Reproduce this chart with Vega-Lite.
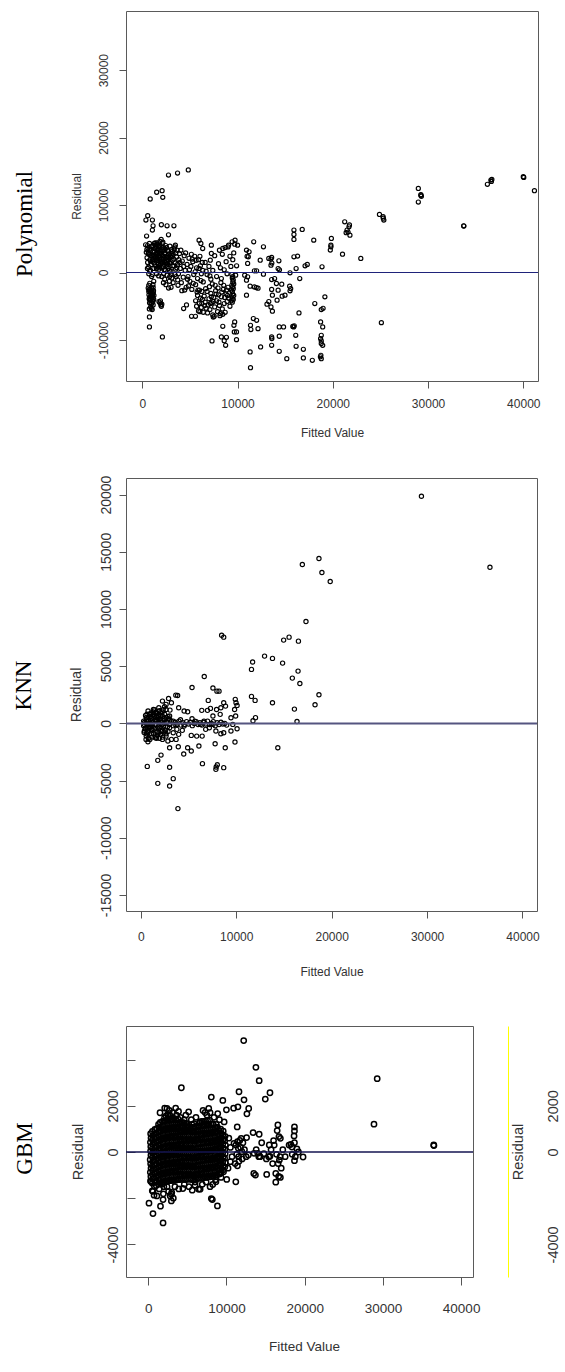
{
"$schema":"https://vega.github.io/schema/vega-lite/v6.json",
"autosize":"none",
"padding":{"left":126,"top":11,"right":439,"bottom":1361},
"background":"white",
"config":{
"view":{"stroke":"#5a5a5a","strokeWidth":1},
"axis":{"domain":false,"grid":false,"tickColor":"#555555","tickWidth":1,"labelColor":"#333333","titleColor":"#333333","labelFont":"Liberation Sans","titleFont":"Liberation Sans","titleFontWeight":"normal","labelFlush":false,"labelOverlap":false},
"title":{"font":"Liberation Serif","fontWeight":"normal","color":"#000000","fontSize":23,"orient":"left"}
},
"datasets":{
"poly":[
{"fit":2750,"res":14450},{"fit":3700,"res":14750},{"fit":4830,"res":15200},{"fit":1510,"res":11900},{"fit":2080,"res":12130},{"fit":2150,"res":11140},{"fit":830,"res":10900},{"fit":28980,"res":12470},{"fit":28980,"res":10450},{"fit":29250,"res":11530},{"fit":29300,"res":11300},{"fit":29250,"res":11450},{"fit":24900,"res":8610},{"fit":25280,"res":8270},{"fit":25360,"res":7770},{"fit":25300,"res":8050},{"fit":25100,"res":-7430},{"fit":33740,"res":6930},{"fit":33760,"res":6880},{"fit":36230,"res":13070},{"fit":36600,"res":13710},{"fit":36650,"res":13500},{"fit":36700,"res":13800},{"fit":40000,"res":14200},{"fit":40050,"res":14100},{"fit":41170,"res":12130},{"fit":22940,"res":2080},{"fit":21020,"res":2720},{"fit":21250,"res":7520},{"fit":21500,"res":6290},{"fit":21700,"res":6780},{"fit":21600,"res":6000},{"fit":21800,"res":5540},{"fit":21750,"res":7050},{"fit":21400,"res":5900},{"fit":19850,"res":5050},{"fit":19800,"res":4060},{"fit":19800,"res":3810},{"fit":19740,"res":3320},{"fit":18000,"res":4800},{"fit":18870,"res":840},{"fit":19170,"res":-3610},{"fit":18980,"res":-5300},{"fit":18790,"res":-5500},{"fit":18110,"res":-4600},{"fit":18720,"res":-7330},{"fit":18940,"res":-8070},{"fit":18790,"res":-9310},{"fit":18720,"res":-9800},{"fit":18790,"res":-10150},{"fit":18790,"res":-10540},{"fit":18940,"res":-10790},{"fit":18750,"res":-12280},{"fit":18790,"res":-12770},{"fit":18700,"res":-12500},{"fit":17850,"res":-13020},{"fit":16910,"res":-12670},{"fit":16910,"res":-11390},{"fit":16150,"res":-10940},{"fit":16110,"res":-9310},{"fit":15890,"res":-8070},{"fit":15800,"res":-8000},{"fit":15950,"res":-7900},{"fit":15170,"res":-12770},{"fit":14380,"res":-11680},{"fit":14380,"res":-9450},{"fit":14380,"res":-8070},{"fit":14830,"res":-8070},{"fit":13580,"res":-10790},{"fit":13580,"res":-9550},{"fit":13600,"res":-9800},{"fit":12420,"res":-11040},{"fit":12150,"res":-8320},{"fit":12000,"res":-7080},{"fit":11660,"res":-6830},{"fit":11360,"res":-7820},{"fit":11400,"res":-8460},{"fit":11320,"res":-11780},{"fit":11360,"res":-14110},{"fit":9890,"res":-9950},{"fit":9890,"res":-8810},{"fit":9660,"res":-8810},{"fit":9700,"res":-7330},{"fit":9620,"res":-7820},{"fit":8830,"res":-9600},{"fit":8750,"res":-10790},{"fit":8300,"res":-9550},{"fit":8600,"res":-10100},{"fit":8450,"res":-7970},{"fit":7320,"res":-10150},{"fit":5170,"res":-6490},{"fit":5580,"res":-6490},{"fit":4640,"res":-4800},{"fit":4340,"res":-5350},{"fit":2110,"res":-9550},{"fit":750,"res":-8070},{"fit":750,"res":-6580},
{"fit":570,"res":8420},{"fit":380,"res":7770},{"fit":1060,"res":7770},{"fit":1130,"res":6930},{"fit":1060,"res":6290},{"fit":450,"res":5400},{"fit":2000,"res":7080},{"fit":2600,"res":6930},{"fit":3320,"res":6930},{"fit":2750,"res":5590},{"fit":3470,"res":4060},{"fit":5960,"res":4800},{"fit":6150,"res":4310},{"fit":6340,"res":3560},{"fit":7250,"res":4060},{"fit":7250,"res":2820},{"fit":7140,"res":1830},{"fit":8450,"res":3560},{"fit":9060,"res":4060},{"fit":9430,"res":4550},{"fit":9740,"res":4800},{"fit":10000,"res":4060},{"fit":11700,"res":4550},{"fit":12720,"res":3810},{"fit":10940,"res":3320},{"fit":11130,"res":2330},{"fit":11210,"res":3070},{"fit":12380,"res":1830},{"fit":13280,"res":2080},{"fit":13580,"res":2230},{"fit":13510,"res":1090},{"fit":14340,"res":1730},{"fit":14260,"res":590},{"fit":15920,"res":6290},{"fit":15920,"res":5640},{"fit":15920,"res":4900},{"fit":15920,"res":2330},{"fit":16300,"res":2430},{"fit":16790,"res":6390},{"fit":16150,"res":590},{"fit":16530,"res":-890},{"fit":17320,"res":1190},{"fit":17090,"res":990},{"fit":15510,"res":-50},{"fit":15470,"res":-2030},{"fit":15580,"res":-2380},{"fit":15510,"res":-2720},{"fit":14680,"res":-3510},{"fit":14980,"res":-3360},{"fit":14260,"res":-2620},{"fit":14640,"res":-1730},{"fit":14080,"res":-1630},{"fit":13890,"res":-890},{"fit":13580,"res":-1040},{"fit":13580,"res":-2520},{"fit":13660,"res":-3360},{"fit":13280,"res":-4310},{"fit":13090,"res":-4700},{"fit":13510,"res":-5100},{"fit":14150,"res":-4110},{"fit":13660,"res":-5740},{"fit":12720,"res":-250},{"fit":12000,"res":250},{"fit":12150,"res":-2330},{"fit":11770,"res":-2130},{"fit":11320,"res":-2030},{"fit":10940,"res":-1140},{"fit":11060,"res":-640},{"fit":10750,"res":-400},{"fit":10940,"res":-3360},{"fit":13500,"res":2000},{"fit":13600,"res":1400},{"fit":14400,"res":400},{"fit":16450,"res":-5990},{"fit":11060,"res":1340},{"fit":11000,"res":2400},{"fit":11960,"res":-2230},{"fit":11770,"res":250},
{"fit":350,"res":4100},{"fit":420,"res":3000},{"fit":500,"res":2200},{"fit":560,"res":1500},{"fit":600,"res":3600},{"fit":650,"res":800},{"fit":700,"res":2700},{"fit":750,"res":4300},{"fit":800,"res":1900},{"fit":850,"res":300},{"fit":900,"res":3300},{"fit":950,"res":1200},{"fit":1000,"res":2500},{"fit":1050,"res":-300},{"fit":1100,"res":4000},{"fit":1150,"res":1700},{"fit":1200,"res":600},{"fit":1250,"res":3000},{"fit":1300,"res":2200},{"fit":1350,"res":4400},{"fit":1400,"res":1000},{"fit":1450,"res":3500},{"fit":1500,"res":-200},{"fit":1550,"res":2600},{"fit":1600,"res":4200},{"fit":1650,"res":1500},{"fit":1700,"res":3800},{"fit":1750,"res":500},{"fit":1800,"res":2900},{"fit":1850,"res":4600},{"fit":1900,"res":1200},{"fit":1950,"res":3200},{"fit":2000,"res":2000},{"fit":2050,"res":-600},{"fit":2100,"res":4300},{"fit":2150,"res":2500},{"fit":2200,"res":900},{"fit":2250,"res":3700},{"fit":2300,"res":1600},{"fit":2350,"res":-1000},{"fit":2400,"res":2800},{"fit":2450,"res":4000},{"fit":2500,"res":1100},{"fit":2550,"res":2200},{"fit":2600,"res":-400},{"fit":2650,"res":3300},{"fit":2700,"res":1800},{"fit":2750,"res":600},{"fit":2800,"res":2700},{"fit":2850,"res":-1300},{"fit":2900,"res":3900},{"fit":2950,"res":1400},{"fit":3000,"res":200},{"fit":3050,"res":2300},{"fit":3100,"res":-800},{"fit":3150,"res":3100},{"fit":3200,"res":1000},{"fit":3300,"res":2000},{"fit":3400,"res":3800},{"fit":3500,"res":500},{"fit":1320,"res":3600},{"fit":1620,"res":2900},{"fit":1880,"res":2300},{"fit":2120,"res":1400},{"fit":2380,"res":3300},{"fit":2620,"res":900},{"fit":1480,"res":600},{"fit":1720,"res":-500},{"fit":1980,"res":4900},{"fit":2220,"res":-1500},{"fit":1200,"res":-1300},{"fit":980,"res":-600},{"fit":760,"res":200},{"fit":640,"res":2900},{"fit":560,"res":4000},{"fit":480,"res":3400},{"fit":2480,"res":-1800},{"fit":2760,"res":-2300},{"fit":3020,"res":-2200},{"fit":3240,"res":-1500},{"fit":2880,"res":-600},{"fit":1580,"res":3300},{"fit":1780,"res":1900},{"fit":2060,"res":3700},{"fit":2300,"res":400},{"fit":1420,"res":2300},{"fit":1120,"res":3100},{"fit":880,"res":1600},{"fit":680,"res":-200},{"fit":540,"res":600},{"fit":3360,"res":3500},{"fit":3460,"res":1400},{"fit":1260,"res":4300},{"fit":1540,"res":4400},{"fit":1840,"res":4000},{"fit":2160,"res":4500},
{"fit":1380,"res":3900},{"fit":1460,"res":2800},{"fit":1560,"res":1800},{"fit":1660,"res":3500},{"fit":1760,"res":2500},{"fit":1860,"res":3400},{"fit":1960,"res":1600},{"fit":2040,"res":2700},{"fit":2140,"res":3400},{"fit":2240,"res":2100},{"fit":2340,"res":2900},{"fit":2440,"res":1500},{"fit":2540,"res":3700},{"fit":2640,"res":2500},{"fit":2740,"res":3200},{"fit":2840,"res":1500},{"fit":2940,"res":2500},{"fit":3040,"res":3400},{"fit":3140,"res":1800},{"fit":3240,"res":2700},{"fit":1180,"res":2600},{"fit":1080,"res":1900},{"fit":980,"res":3800},{"fit":880,"res":2600},{"fit":780,"res":3500},{"fit":1240,"res":1400},{"fit":1340,"res":1900},{"fit":1440,"res":4100},{"fit":1640,"res":800},{"fit":1840,"res":800},{"fit":2040,"res":700},{"fit":2240,"res":-200},{"fit":2440,"res":300},{"fit":2640,"res":1300},{"fit":2840,"res":300},{"fit":3040,"res":-300},{"fit":1580,"res":2200},{"fit":1700,"res":1200},{"fit":1920,"res":2800},{"fit":2180,"res":1900},{"fit":2400,"res":2100},{"fit":2580,"res":1700},{"fit":2780,"res":2200},{"fit":3100,"res":2800},{"fit":3320,"res":1000},{"fit":3420,"res":-300},{"fit":3520,"res":2900},{"fit":3620,"res":700},{"fit":3720,"res":-1100},{"fit":3820,"res":1900},
{"fit":620,"res":-2300},{"fit":680,"res":-2800},{"fit":700,"res":-3300},{"fit":720,"res":-3900},{"fit":760,"res":-4500},{"fit":800,"res":-2500},{"fit":820,"res":-3600},{"fit":860,"res":-4100},{"fit":880,"res":-5100},{"fit":900,"res":-2900},{"fit":940,"res":-3300},{"fit":980,"res":-3800},{"fit":1000,"res":-4600},{"fit":1020,"res":-2600},{"fit":1060,"res":-3100},{"fit":1080,"res":-3500},{"fit":1100,"res":-4300},{"fit":1140,"res":-2200},{"fit":1160,"res":-3000},{"fit":1200,"res":-4000},{"fit":1220,"res":-3400},{"fit":740,"res":-5400},{"fit":960,"res":-5300},{"fit":1040,"res":-5500},{"fit":680,"res":-1900},{"fit":1120,"res":-1800},{"fit":780,"res":-1600},{"fit":1180,"res":-2700},{"fit":720,"res":-2600},{"fit":860,"res":-3000},{"fit":1000,"res":-2400},{"fit":1100,"res":-3800},{"fit":900,"res":-4500},{"fit":780,"res":-4000},{"fit":960,"res":-3500},{"fit":1140,"res":-4800},
{"fit":1750,"res":-4300},{"fit":1850,"res":-4500},{"fit":1950,"res":-4800},{"fit":2050,"res":-4700},{"fit":1900,"res":-4200},{"fit":2000,"res":-5000},
{"fit":3600,"res":2300},{"fit":3700,"res":1200},{"fit":3800,"res":-200},{"fit":3900,"res":2800},{"fit":4000,"res":600},{"fit":4100,"res":-1500},{"fit":4200,"res":1700},{"fit":4300,"res":-700},{"fit":4400,"res":2500},{"fit":4500,"res":300},{"fit":4600,"res":-2200},{"fit":4700,"res":1200},{"fit":4800,"res":-600},{"fit":4900,"res":2100},{"fit":5000,"res":-1300},{"fit":5100,"res":900},{"fit":5200,"res":-2500},{"fit":5300,"res":1600},{"fit":5400,"res":-300},{"fit":5500,"res":2400},{"fit":5600,"res":-1800},{"fit":5700,"res":700},{"fit":5800,"res":-900},{"fit":5900,"res":1900},{"fit":6000,"res":-2600},{"fit":6100,"res":1000},{"fit":6200,"res":-200},{"fit":6300,"res":1500},{"fit":6400,"res":-1400},{"fit":3550,"res":-600},{"fit":3750,"res":-1900},{"fit":3950,"res":1500},{"fit":4150,"res":-2700},{"fit":4350,"res":900},{"fit":4550,"res":2900},{"fit":4750,"res":-1000},{"fit":4950,"res":400},{"fit":5150,"res":2700},{"fit":5350,"res":-1600},{"fit":5550,"res":100},{"fit":5750,"res":-2900},{"fit":5950,"res":600},{"fit":6150,"res":-1200},{"fit":6350,"res":300},{"fit":3650,"res":3300},{"fit":4050,"res":3300},{"fit":4450,"res":-2600},{"fit":4850,"res":-2000},{"fit":5250,"res":2000},{"fit":5650,"res":1800},{"fit":6050,"res":2400},{"fit":6250,"res":-2800},
{"fit":5600,"res":-4200},{"fit":5700,"res":-5000},{"fit":5800,"res":-3400},{"fit":5900,"res":-5700},{"fit":6000,"res":-4600},{"fit":6100,"res":-3800},{"fit":6200,"res":-5200},{"fit":6300,"res":-4000},{"fit":6400,"res":-5900},{"fit":6500,"res":-3500},{"fit":6600,"res":-4400},{"fit":6700,"res":-5300},{"fit":6800,"res":-2800},{"fit":6900,"res":-4800},{"fit":7000,"res":-3900},{"fit":7100,"res":-5500},{"fit":7200,"res":-3100},{"fit":7300,"res":-4500},{"fit":7400,"res":-6300},{"fit":7500,"res":-3700},{"fit":7600,"res":-5100},{"fit":7700,"res":-2700},{"fit":7800,"res":-4200},{"fit":7900,"res":-5800},{"fit":8000,"res":-3300},{"fit":8100,"res":-4900},{"fit":8200,"res":-6100},{"fit":8300,"res":-3600},{"fit":8400,"res":-5400},{"fit":8500,"res":-2500},{"fit":8600,"res":-4600},{"fit":8700,"res":-5900},{"fit":8800,"res":-3200},{"fit":8900,"res":-4300},{"fit":9000,"res":-2200},{"fit":9100,"res":-3800},{"fit":9200,"res":-5000},{"fit":7450,"res":-6600},{"fit":7550,"res":-6500},{"fit":6050,"res":-5800},{"fit":6650,"res":-2400},{"fit":7050,"res":-2100},{"fit":7350,"res":-1700},{"fit":7650,"res":-1900},{"fit":7950,"res":-2300},{"fit":8250,"res":-1500},{"fit":8550,"res":-1900},{"fit":8850,"res":-2600},{"fit":6850,"res":-6000},{"fit":8150,"res":-6400},{"fit":8450,"res":-6200},{"fit":5850,"res":-2600},{"fit":7250,"res":-3600},{"fit":7450,"res":-4300},{"fit":7750,"res":-3200},{"fit":8050,"res":-4400},{"fit":8350,"res":-2900},{"fit":8650,"res":-3700},{"fit":8950,"res":-3400},{"fit":7150,"res":-4600},{"fit":6550,"res":-4900},{"fit":6250,"res":-4600},
{"fit":9400,"res":-300},{"fit":9450,"res":-800},{"fit":9500,"res":-1400},{"fit":9400,"res":-1900},{"fit":9550,"res":-2400},{"fit":9450,"res":-2800},{"fit":9500,"res":-3200},{"fit":9400,"res":-3600},{"fit":9550,"res":-4000},{"fit":9450,"res":-4400},{"fit":9500,"res":-600},{"fit":9600,"res":-1700},{"fit":9350,"res":-2600},{"fit":9600,"res":-3400},{"fit":9350,"res":-4200},{"fit":9500,"res":-2100},{"fit":9450,"res":-3900},{"fit":9550,"res":-1100},
{"fit":6600,"res":1500},{"fit":6800,"res":-300},{"fit":7000,"res":900},{"fit":7200,"res":-1000},{"fit":7400,"res":300},{"fit":7600,"res":2500},{"fit":7800,"res":-600},{"fit":8000,"res":1300},{"fit":8200,"res":700},{"fit":8300,"res":-900},{"fit":8400,"res":2700},{"fit":8600,"res":400},{"fit":8800,"res":1600},{"fit":8900,"res":-200},{"fit":9000,"res":3800},{"fit":9200,"res":2400},{"fit":9300,"res":900},{"fit":9500,"res":1900},{"fit":9600,"res":2900},{"fit":9700,"res":4200},{"fit":9800,"res":-400},{"fit":9900,"res":1000},{"fit":8700,"res":3700},{"fit":8100,"res":3300},{"fit":6700,"res":200},{"fit":7100,"res":-500}
],
"knn":[
{"fit":29410,"res":19850},{"fit":36590,"res":13650},{"fit":16930,"res":13890},{"fit":18670,"res":14410},{"fit":18980,"res":13190},{"fit":19850,"res":12400},{"fit":17310,"res":8910},{"fit":8470,"res":7710},{"fit":8690,"res":7540},{"fit":14970,"res":7280},{"fit":15540,"res":7540},{"fit":16520,"res":7190},{"fit":12970,"res":5880},{"fit":13800,"res":5680},{"fit":14860,"res":5270},{"fit":11720,"res":5360},{"fit":11600,"res":4720},{"fit":16480,"res":4570},{"fit":15880,"res":3960},{"fit":16670,"res":3490},{"fit":6650,"res":4100},{"fit":5370,"res":3140},{"fit":7560,"res":3090},{"fit":7980,"res":2820},{"fit":18670,"res":2500},{"fit":18260,"res":1630},{"fit":13800,"res":1800},{"fit":11600,"res":2360},{"fit":11980,"res":2010},{"fit":16100,"res":1250},{"fit":12020,"res":500},{"fit":11760,"res":230},{"fit":16370,"res":170},{"fit":14360,"res":-2130},{"fit":9900,"res":2100},{"fit":9980,"res":1800},{"fit":10090,"res":1570},{"fit":9830,"res":1220},{"fit":9940,"res":640},{"fit":10090,"res":-470},{"fit":9870,"res":-1630},{"fit":8850,"res":-2130},{"fit":7790,"res":-1780},{"fit":8690,"res":-3870},{"fit":7900,"res":-3810},{"fit":8020,"res":-3610},{"fit":7870,"res":-4020},{"fit":6460,"res":-3520},{"fit":6090,"res":-1980},{"fit":4910,"res":-2130},{"fit":5290,"res":-2420},{"fit":4500,"res":-2680},{"fit":3020,"res":-2130},{"fit":3930,"res":-2040},{"fit":3020,"res":-3840},{"fit":3400,"res":-4830},{"fit":3020,"res":-5470},{"fit":1780,"res":-5240},{"fit":680,"res":-3760},{"fit":1780,"res":-3230},{"fit":2120,"res":-2770},{"fit":3890,"res":-7450},{"fit":8200,"res":2820},{"fit":7070,"res":2010},{"fit":6990,"res":1140},{"fit":7300,"res":1310},{"fit":6390,"res":1140},{"fit":3670,"res":2470},{"fit":3860,"res":2440},{"fit":2910,"res":2180},{"fit":3210,"res":1800},{"fit":3060,"res":1160},{"fit":2490,"res":1460},{"fit":3970,"res":1370},{"fit":4540,"res":1080},{"fit":4910,"res":1020},{"fit":5370,"res":410},{"fit":5670,"res":200},{"fit":5860,"res":-1110},{"fit":5290,"res":-1050},{"fit":6430,"res":-1110},{"fit":3970,"res":-960},{"fit":3700,"res":-1400},{"fit":4350,"res":-610},{"fit":4540,"res":-230},{"fit":4160,"res":320},{"fit":7560,"res":640},{"fit":7940,"res":1220},{"fit":8320,"res":790},{"fit":8690,"res":1800},{"fit":8390,"res":1370},{"fit":8880,"res":1510},{"fit":7560,"res":-90},{"fit":7870,"res":-670},{"fit":8390,"res":-900},{"fit":8690,"res":-820},{"fit":9450,"res":-670},{"fit":9640,"res":-90},{"fit":9450,"res":490},{"fit":7180,"res":-380},{"fit":6800,"res":-520},{"fit":6240,"res":-90},{"fit":6620,"res":200},{"fit":2270,"res":1950},{"fit":2650,"res":1660},{"fit":1890,"res":1370},{"fit":1510,"res":930},{"fit":1320,"res":790},{"fit":1130,"res":490},{"fit":1890,"res":350},{"fit":2460,"res":440},{"fit":3020,"res":640},{"fit":3400,"res":200},{"fit":3590,"res":-90},{"fit":3020,"res":-380},{"fit":2460,"res":-730},{"fit":2080,"res":-960},{"fit":1700,"res":-730},{"fit":1130,"res":-520},{"fit":760,"res":-820},{"fit":570,"res":-1110},{"fit":380,"res":-670},{"fit":950,"res":-1400},{"fit":1510,"res":-1250},{"fit":2270,"res":-1400},{"fit":2650,"res":-1110},{"fit":2840,"res":-1540},{"fit":3210,"res":-1400},{"fit":3400,"res":-820},{"fit":3780,"res":-520},{"fit":380,"res":-90},{"fit":300,"res":200},{"fit":570,"res":490},{"fit":950,"res":790},{"fit":760,"res":1080},{"fit":1320,"res":1220},{"fit":2080,"res":930},{"fit":2650,"res":1220},{"fit":1890,"res":790},{"fit":2270,"res":-90},{"fit":1510,"res":-90},{"fit":1130,"res":-90},{"fit":760,"res":-90},{"fit":570,"res":200},
{"fit":300,"res":-200},{"fit":400,"res":100},{"fit":500,"res":-400},{"fit":600,"res":300},{"fit":700,"res":-100},{"fit":800,"res":200},{"fit":900,"res":-300},{"fit":1000,"res":0},{"fit":1100,"res":400},{"fit":1200,"res":-200},{"fit":1300,"res":100},{"fit":1400,"res":-500},{"fit":1500,"res":300},{"fit":1600,"res":-100},{"fit":1700,"res":500},{"fit":1800,"res":-300},{"fit":1900,"res":100},{"fit":2000,"res":-400},{"fit":2100,"res":200},{"fit":2200,"res":-100},{"fit":2300,"res":600},{"fit":2400,"res":-200},{"fit":2500,"res":300},{"fit":2600,"res":-600},{"fit":2700,"res":100},{"fit":2800,"res":-300},{"fit":2900,"res":400},{"fit":3000,"res":-100},{"fit":3200,"res":200},{"fit":3400,"res":-200},{"fit":3600,"res":100},{"fit":3800,"res":-100},{"fit":4000,"res":200},{"fit":4200,"res":-150},{"fit":4400,"res":50},{"fit":4600,"res":-100},{"fit":4800,"res":150},{"fit":5000,"res":-50},{"fit":5200,"res":100},{"fit":5400,"res":-200},{"fit":5600,"res":0},{"fit":5800,"res":150},{"fit":6000,"res":-100},{"fit":6200,"res":50},{"fit":6400,"res":-150},{"fit":6600,"res":100},{"fit":6800,"res":-50},{"fit":7000,"res":200},{"fit":7200,"res":-100},{"fit":7400,"res":0},{"fit":7600,"res":150},{"fit":7800,"res":-200},{"fit":8000,"res":50},{"fit":8200,"res":-100},{"fit":8400,"res":100},{"fit":8600,"res":-50},{"fit":8800,"res":0},{"fit":9000,"res":-150},{"fit":500,"res":700},{"fit":700,"res":-700},{"fit":900,"res":800},{"fit":1100,"res":-900},{"fit":1300,"res":1000},{"fit":1500,"res":-1100},{"fit":1700,"res":900},{"fit":1900,"res":-800},{"fit":2100,"res":700},{"fit":2300,"res":-1200},{"fit":2500,"res":800},{"fit":800,"res":-1300},{"fit":600,"res":-900},{"fit":1000,"res":600},{"fit":1250,"res":-600},{"fit":1650,"res":-1300},{"fit":1850,"res":600},{"fit":2050,"res":-1000},{"fit":2250,"res":1000},{"fit":2650,"res":-900},{"fit":2850,"res":600},{"fit":350,"res":-800},
{"fit":450,"res":-500},{"fit":650,"res":-300},{"fit":850,"res":-600},{"fit":1050,"res":-300},{"fit":1250,"res":300},{"fit":1450,"res":600},{"fit":1650,"res":200},{"fit":1850,"res":-500},{"fit":2050,"res":400},{"fit":2250,"res":-600},{"fit":2450,"res":0},{"fit":2650,"res":500},{"fit":2850,"res":-700},{"fit":3050,"res":300},{"fit":550,"res":-1400},{"fit":750,"res":-1600},{"fit":1150,"res":-1200},{"fit":1350,"res":-900},{"fit":1750,"res":-1000},{"fit":1950,"res":-1300},{"fit":2150,"res":-700},{"fit":1050,"res":900},{"fit":1450,"res":1200},{"fit":1650,"res":700},{"fit":1950,"res":1100},{"fit":2350,"res":1200},{"fit":850,"res":500},{"fit":650,"res":800}
],
"gbm":[
{"fit":280,"res":-1250},{"fit":330,"res":-1060},{"fit":260,"res":-880},{"fit":350,"res":-700},{"fit":300,"res":-510},{"fit":240,"res":-330},{"fit":340,"res":-140},{"fit":290,"res":40},{"fit":320,"res":230},{"fit":270,"res":420},{"fit":350,"res":610},{"fit":300,"res":790},
{"fit":780,"res":-1480},{"fit":850,"res":-1290},{"fit":760,"res":-1100},{"fit":830,"res":-920},{"fit":790,"res":-730},{"fit":860,"res":-540},{"fit":770,"res":-360},{"fit":820,"res":-170},{"fit":800,"res":20},{"fit":850,"res":210},{"fit":760,"res":400},{"fit":830,"res":590},{"fit":790,"res":780},{"fit":840,"res":980},
{"fit":1280,"res":-1400},{"fit":1350,"res":-1210},{"fit":1260,"res":-1020},{"fit":1330,"res":-830},{"fit":1290,"res":-650},{"fit":1360,"res":-460},{"fit":1270,"res":-270},{"fit":1320,"res":-80},{"fit":1300,"res":110},{"fit":1350,"res":300},{"fit":1260,"res":490},{"fit":1330,"res":680},{"fit":1290,"res":870},{"fit":1340,"res":1060},{"fit":1310,"res":1200},
{"fit":1780,"res":-1320},{"fit":1850,"res":-1130},{"fit":1760,"res":-940},{"fit":1830,"res":-750},{"fit":1790,"res":-560},{"fit":1860,"res":-380},{"fit":1770,"res":-190},{"fit":1820,"res":0},{"fit":1800,"res":190},{"fit":1850,"res":380},{"fit":1760,"res":570},{"fit":1830,"res":760},{"fit":1790,"res":950},{"fit":1840,"res":1140},{"fit":1810,"res":1330},
{"fit":2280,"res":-1280},{"fit":2350,"res":-1090},{"fit":2260,"res":-900},{"fit":2330,"res":-710},{"fit":2290,"res":-520},{"fit":2360,"res":-340},{"fit":2270,"res":-150},{"fit":2320,"res":40},{"fit":2300,"res":230},{"fit":2350,"res":420},{"fit":2260,"res":610},{"fit":2330,"res":800},{"fit":2290,"res":990},{"fit":2340,"res":1180},{"fit":2310,"res":1370},{"fit":2280,"res":1560},
{"fit":2780,"res":-1240},{"fit":2850,"res":-1050},{"fit":2760,"res":-860},{"fit":2830,"res":-670},{"fit":2790,"res":-480},{"fit":2860,"res":-300},{"fit":2770,"res":-110},{"fit":2820,"res":80},{"fit":2800,"res":270},{"fit":2850,"res":460},{"fit":2760,"res":650},{"fit":2830,"res":840},{"fit":2790,"res":1030},{"fit":2840,"res":1220},{"fit":2810,"res":1410},{"fit":2770,"res":1590},
{"fit":3280,"res":-1230},{"fit":3350,"res":-1040},{"fit":3260,"res":-850},{"fit":3330,"res":-660},{"fit":3290,"res":-470},{"fit":3360,"res":-290},{"fit":3270,"res":-100},{"fit":3320,"res":90},{"fit":3300,"res":280},{"fit":3350,"res":470},{"fit":3260,"res":660},{"fit":3330,"res":850},{"fit":3290,"res":1040},{"fit":3340,"res":1230},{"fit":3310,"res":1450},
{"fit":3780,"res":-1200},{"fit":3850,"res":-1010},{"fit":3760,"res":-820},{"fit":3830,"res":-630},{"fit":3790,"res":-440},{"fit":3860,"res":-260},{"fit":3770,"res":-70},{"fit":3820,"res":120},{"fit":3800,"res":310},{"fit":3850,"res":500},{"fit":3760,"res":690},{"fit":3830,"res":880},{"fit":3790,"res":1070},{"fit":3840,"res":1260},{"fit":3810,"res":1420},
{"fit":4280,"res":-1180},{"fit":4350,"res":-990},{"fit":4260,"res":-800},{"fit":4330,"res":-610},{"fit":4290,"res":-420},{"fit":4360,"res":-240},{"fit":4270,"res":-50},{"fit":4320,"res":140},{"fit":4300,"res":330},{"fit":4350,"res":520},{"fit":4260,"res":710},{"fit":4330,"res":900},{"fit":4290,"res":1090},{"fit":4340,"res":1280},
{"fit":4780,"res":-1190},{"fit":4850,"res":-1000},{"fit":4760,"res":-810},{"fit":4830,"res":-620},{"fit":4790,"res":-430},{"fit":4860,"res":-250},{"fit":4770,"res":-60},{"fit":4820,"res":130},{"fit":4800,"res":320},{"fit":4850,"res":510},{"fit":4760,"res":700},{"fit":4830,"res":890},{"fit":4790,"res":1080},{"fit":4840,"res":1240},
{"fit":5280,"res":-1170},{"fit":5350,"res":-980},{"fit":5260,"res":-790},{"fit":5330,"res":-600},{"fit":5290,"res":-410},{"fit":5360,"res":-230},{"fit":5270,"res":-40},{"fit":5320,"res":150},{"fit":5300,"res":340},{"fit":5350,"res":530},{"fit":5260,"res":720},{"fit":5330,"res":910},{"fit":5290,"res":1100},
{"fit":5780,"res":-1200},{"fit":5850,"res":-1010},{"fit":5760,"res":-820},{"fit":5830,"res":-630},{"fit":5790,"res":-440},{"fit":5860,"res":-260},{"fit":5770,"res":-70},{"fit":5820,"res":120},{"fit":5800,"res":310},{"fit":5850,"res":500},{"fit":5760,"res":690},{"fit":5830,"res":880},{"fit":5790,"res":1070},{"fit":5840,"res":1230},
{"fit":6280,"res":-1150},{"fit":6350,"res":-960},{"fit":6260,"res":-770},{"fit":6330,"res":-580},{"fit":6290,"res":-390},{"fit":6360,"res":-210},{"fit":6270,"res":-20},{"fit":6320,"res":170},{"fit":6300,"res":360},{"fit":6350,"res":550},{"fit":6260,"res":740},{"fit":6330,"res":930},{"fit":6290,"res":1120},
{"fit":6780,"res":-1130},{"fit":6850,"res":-940},{"fit":6760,"res":-750},{"fit":6830,"res":-560},{"fit":6790,"res":-370},{"fit":6860,"res":-190},{"fit":6770,"res":0},{"fit":6820,"res":190},{"fit":6800,"res":380},{"fit":6850,"res":570},{"fit":6760,"res":760},{"fit":6830,"res":950},{"fit":6790,"res":1140},{"fit":6840,"res":1320},
{"fit":7280,"res":-1100},{"fit":7350,"res":-910},{"fit":7260,"res":-720},{"fit":7330,"res":-530},{"fit":7290,"res":-340},{"fit":7360,"res":-160},{"fit":7270,"res":30},{"fit":7320,"res":220},{"fit":7300,"res":410},{"fit":7350,"res":600},{"fit":7260,"res":790},{"fit":7330,"res":980},{"fit":7290,"res":1170},{"fit":7340,"res":1350},
{"fit":7780,"res":-1080},{"fit":7850,"res":-890},{"fit":7760,"res":-700},{"fit":7830,"res":-510},{"fit":7790,"res":-320},{"fit":7860,"res":-140},{"fit":7770,"res":50},{"fit":7820,"res":240},{"fit":7800,"res":430},{"fit":7850,"res":620},{"fit":7760,"res":810},{"fit":7830,"res":1000},{"fit":7790,"res":1190},{"fit":7840,"res":1380},
{"fit":8280,"res":-1050},{"fit":8350,"res":-860},{"fit":8260,"res":-670},{"fit":8330,"res":-480},{"fit":8290,"res":-290},{"fit":8360,"res":-110},{"fit":8270,"res":80},{"fit":8320,"res":270},{"fit":8300,"res":460},{"fit":8350,"res":650},{"fit":8260,"res":840},{"fit":8330,"res":1030},{"fit":8290,"res":1220},
{"fit":8780,"res":-1000},{"fit":8850,"res":-810},{"fit":8760,"res":-620},{"fit":8830,"res":-430},{"fit":8790,"res":-240},{"fit":8860,"res":-60},{"fit":8770,"res":130},{"fit":8820,"res":320},{"fit":8800,"res":510},{"fit":8850,"res":700},{"fit":8760,"res":890},{"fit":8830,"res":1080},
{"fit":9280,"res":-900},{"fit":9350,"res":-710},{"fit":9260,"res":-520},{"fit":9330,"res":-330},{"fit":9290,"res":-140},{"fit":9360,"res":40},{"fit":9270,"res":230},{"fit":9320,"res":420},{"fit":9300,"res":610},{"fit":9350,"res":800},{"fit":9260,"res":990},
{"fit":9780,"res":-650},{"fit":9850,"res":-460},{"fit":9760,"res":-270},{"fit":9830,"res":-80},{"fit":9790,"res":110},{"fit":9860,"res":300},{"fit":9770,"res":490},{"fit":9820,"res":680},
{"fit":520,"res":-1350},{"fit":580,"res":-1160},{"fit":530,"res":-970},{"fit":570,"res":-790},{"fit":520,"res":-600},{"fit":580,"res":-420},{"fit":530,"res":-230},{"fit":570,"res":-40},{"fit":520,"res":150},{"fit":580,"res":330},{"fit":530,"res":520},{"fit":570,"res":710},{"fit":520,"res":890},
{"fit":1020,"res":-1450},{"fit":1080,"res":-1260},{"fit":1030,"res":-1070},{"fit":1070,"res":-880},{"fit":1020,"res":-700},{"fit":1080,"res":-510},{"fit":1030,"res":-320},{"fit":1070,"res":-130},{"fit":1020,"res":60},{"fit":1080,"res":250},{"fit":1030,"res":440},{"fit":1070,"res":630},{"fit":1020,"res":820},{"fit":1080,"res":1010},
{"fit":1520,"res":-1350},{"fit":1580,"res":-1160},{"fit":1530,"res":-970},{"fit":1570,"res":-790},{"fit":1520,"res":-600},{"fit":1580,"res":-410},{"fit":1530,"res":-230},{"fit":1570,"res":-40},{"fit":1520,"res":150},{"fit":1580,"res":340},{"fit":1530,"res":530},{"fit":1570,"res":720},{"fit":1520,"res":910},{"fit":1580,"res":1100},{"fit":1530,"res":1280},
{"fit":2020,"res":-1300},{"fit":2080,"res":-1110},{"fit":2030,"res":-930},{"fit":2070,"res":-740},{"fit":2020,"res":-550},{"fit":2080,"res":-370},{"fit":2030,"res":-180},{"fit":2070,"res":10},{"fit":2020,"res":200},{"fit":2080,"res":390},{"fit":2030,"res":580},{"fit":2070,"res":770},{"fit":2020,"res":960},{"fit":2080,"res":1150},{"fit":2030,"res":1340},{"fit":2070,"res":1480},
{"fit":2520,"res":-1260},{"fit":2580,"res":-1070},{"fit":2530,"res":-880},{"fit":2570,"res":-690},{"fit":2520,"res":-500},{"fit":2580,"res":-320},{"fit":2530,"res":-130},{"fit":2570,"res":60},{"fit":2520,"res":250},{"fit":2580,"res":440},{"fit":2530,"res":630},{"fit":2570,"res":820},{"fit":2520,"res":1010},{"fit":2580,"res":1200},{"fit":2530,"res":1390},{"fit":2570,"res":1580},
{"fit":3020,"res":-1230},{"fit":3080,"res":-1040},{"fit":3030,"res":-850},{"fit":3070,"res":-660},{"fit":3020,"res":-480},{"fit":3080,"res":-290},{"fit":3030,"res":-100},{"fit":3070,"res":90},{"fit":3020,"res":280},{"fit":3080,"res":470},{"fit":3030,"res":660},{"fit":3070,"res":850},{"fit":3020,"res":1040},{"fit":3080,"res":1230},{"fit":3030,"res":1420},
{"fit":3520,"res":-1220},{"fit":3580,"res":-1030},{"fit":3530,"res":-840},{"fit":3570,"res":-650},{"fit":3520,"res":-460},{"fit":3580,"res":-280},{"fit":3530,"res":-90},{"fit":3570,"res":100},{"fit":3520,"res":290},{"fit":3580,"res":480},{"fit":3530,"res":670},{"fit":3570,"res":860},{"fit":3520,"res":1050},{"fit":3580,"res":1240},{"fit":3530,"res":1400},
{"fit":4020,"res":-1190},{"fit":4080,"res":-1000},{"fit":4030,"res":-810},{"fit":4070,"res":-620},{"fit":4020,"res":-430},{"fit":4080,"res":-250},{"fit":4030,"res":-60},{"fit":4070,"res":130},{"fit":4020,"res":320},{"fit":4080,"res":510},{"fit":4030,"res":700},{"fit":4070,"res":890},{"fit":4020,"res":1080},{"fit":4080,"res":1270},
{"fit":4520,"res":-1180},{"fit":4580,"res":-990},{"fit":4530,"res":-800},{"fit":4570,"res":-610},{"fit":4520,"res":-420},{"fit":4580,"res":-240},{"fit":4530,"res":-50},{"fit":4570,"res":140},{"fit":4520,"res":330},{"fit":4580,"res":520},{"fit":4530,"res":710},{"fit":4570,"res":900},{"fit":4520,"res":1090},{"fit":4580,"res":1260},
{"fit":5020,"res":-1180},{"fit":5080,"res":-990},{"fit":5030,"res":-800},{"fit":5070,"res":-610},{"fit":5020,"res":-420},{"fit":5080,"res":-240},{"fit":5030,"res":-50},{"fit":5070,"res":140},{"fit":5020,"res":330},{"fit":5080,"res":520},{"fit":5030,"res":710},{"fit":5070,"res":900},{"fit":5020,"res":1090},
{"fit":5520,"res":-1190},{"fit":5580,"res":-1000},{"fit":5530,"res":-810},{"fit":5570,"res":-620},{"fit":5520,"res":-430},{"fit":5580,"res":-250},{"fit":5530,"res":-60},{"fit":5570,"res":130},{"fit":5520,"res":320},{"fit":5580,"res":510},{"fit":5530,"res":700},{"fit":5570,"res":890},{"fit":5520,"res":1080},{"fit":5580,"res":1200},
{"fit":6020,"res":-1170},{"fit":6080,"res":-980},{"fit":6030,"res":-790},{"fit":6070,"res":-600},{"fit":6020,"res":-410},{"fit":6080,"res":-230},{"fit":6030,"res":-40},{"fit":6070,"res":150},{"fit":6020,"res":340},{"fit":6080,"res":530},{"fit":6030,"res":720},{"fit":6070,"res":910},{"fit":6020,"res":1100},
{"fit":6520,"res":-1140},{"fit":6580,"res":-950},{"fit":6530,"res":-760},{"fit":6570,"res":-570},{"fit":6520,"res":-380},{"fit":6580,"res":-200},{"fit":6530,"res":-10},{"fit":6570,"res":180},{"fit":6520,"res":370},{"fit":6580,"res":560},{"fit":6530,"res":750},{"fit":6570,"res":940},{"fit":6520,"res":1130},
{"fit":7020,"res":-1110},{"fit":7080,"res":-920},{"fit":7030,"res":-730},{"fit":7070,"res":-540},{"fit":7020,"res":-350},{"fit":7080,"res":-170},{"fit":7030,"res":20},{"fit":7070,"res":210},{"fit":7020,"res":400},{"fit":7080,"res":590},{"fit":7030,"res":780},{"fit":7070,"res":970},{"fit":7020,"res":1160},{"fit":7080,"res":1330},
{"fit":7520,"res":-1090},{"fit":7580,"res":-900},{"fit":7530,"res":-710},{"fit":7570,"res":-520},{"fit":7520,"res":-330},{"fit":7580,"res":-150},{"fit":7530,"res":40},{"fit":7570,"res":230},{"fit":7520,"res":420},{"fit":7580,"res":610},{"fit":7530,"res":800},{"fit":7570,"res":990},{"fit":7520,"res":1180},{"fit":7580,"res":1360},
{"fit":8020,"res":-1060},{"fit":8080,"res":-870},{"fit":8030,"res":-680},{"fit":8070,"res":-490},{"fit":8020,"res":-300},{"fit":8080,"res":-120},{"fit":8030,"res":70},{"fit":8070,"res":260},{"fit":8020,"res":450},{"fit":8080,"res":640},{"fit":8030,"res":830},{"fit":8070,"res":1020},{"fit":8020,"res":1210},
{"fit":8520,"res":-1020},{"fit":8580,"res":-830},{"fit":8530,"res":-640},{"fit":8570,"res":-450},{"fit":8520,"res":-260},{"fit":8580,"res":-80},{"fit":8530,"res":110},{"fit":8570,"res":300},{"fit":8520,"res":490},{"fit":8580,"res":680},{"fit":8530,"res":870},{"fit":8570,"res":1060},
{"fit":9020,"res":-950},{"fit":9080,"res":-760},{"fit":9030,"res":-570},{"fit":9070,"res":-380},{"fit":9020,"res":-190},{"fit":9080,"res":-10},{"fit":9030,"res":180},{"fit":9070,"res":370},{"fit":9020,"res":560},{"fit":9080,"res":750},{"fit":9030,"res":940},
{"fit":9520,"res":-780},{"fit":9580,"res":-590},{"fit":9530,"res":-400},{"fit":9570,"res":-210},{"fit":9520,"res":-20},{"fit":9580,"res":170},{"fit":9530,"res":360},{"fit":9570,"res":550},{"fit":9520,"res":740},{"fit":9580,"res":900},
{"fit":12200,"res":4825},{"fit":13760,"res":3666},{"fit":14180,"res":3086},{"fit":4230,"res":2782},{"fit":29270,"res":3173},{"fit":28860,"res":1203},{"fit":36500,"res":304},{"fit":36520,"res":280},{"fit":11600,"res":2608},{"fit":15560,"res":2565},{"fit":14960,"res":2290},{"fit":12240,"res":2260},{"fit":12840,"res":1884},{"fit":12610,"res":1652},{"fit":11460,"res":1956},{"fit":10910,"res":1898},{"fit":9530,"res":2231},{"fit":8060,"res":2376},{"fit":9990,"res":1826},{"fit":5160,"res":1739},{"fit":3870,"res":1753},{"fit":2390,"res":1884},{"fit":2490,"res":1623},{"fit":7730,"res":1884},{"fit":7270,"res":1710},{"fit":8880,"res":1666},{"fit":6540,"res":1246},{"fit":5020,"res":1145},{"fit":11370,"res":1087},{"fit":16570,"res":1174},{"fit":16480,"res":927},{"fit":18690,"res":1087},{"fit":18690,"res":913},{"fit":18640,"res":696},{"fit":18690,"res":406},{"fit":13400,"res":840},{"fit":14180,"res":768},{"fit":12570,"res":623},{"fit":16710,"res":667},{"fit":16890,"res":594},{"fit":16020,"res":493},{"fit":18230,"res":333},{"fit":18370,"res":217},{"fit":19010,"res":130},{"fit":19790,"res":-217},{"fit":18690,"res":-377},{"fit":16760,"res":-348},{"fit":16850,"res":-203},{"fit":15560,"res":-188},{"fit":15470,"res":304},{"fit":14780,"res":-72},{"fit":14130,"res":-203},{"fit":13530,"res":-58},{"fit":13490,"res":-927},{"fit":15140,"res":-971},{"fit":16300,"res":-927},{"fit":16670,"res":-1058},{"fit":16890,"res":-1101},{"fit":16300,"res":-1304},{"fit":13990,"res":-58},{"fit":12520,"res":-203},{"fit":11550,"res":-203},{"fit":11190,"res":-1290},{"fit":10030,"res":-1188},{"fit":9620,"res":-855},{"fit":9160,"res":-942},{"fit":8840,"res":-2333},{"fit":8060,"res":-2014},{"fit":8190,"res":-2058},{"fit":8650,"res":-1290},{"fit":8240,"res":-1406},{"fit":6630,"res":-1608},{"fit":6440,"res":-1608},{"fit":5620,"res":-1652},{"fit":5980,"res":-1435},{"fit":4420,"res":-1580},{"fit":3000,"res":-1753},{"fit":2950,"res":-1826},{"fit":2950,"res":-2116},{"fit":1930,"res":-1811},{"fit":1890,"res":-2058},{"fit":1560,"res":-2347},{"fit":510,"res":-1681},{"fit":740,"res":-1869},{"fit":90,"res":-2217},{"fit":600,"res":-2666},{"fit":1890,"res":-3072},{"fit":1750,"res":-1391},{"fit":370,"res":-1290},{"fit":10490,"res":-420},{"fit":10960,"res":377},{"fit":11410,"res":450},{"fit":11880,"res":594},{"fit":11510,"res":159},{"fit":11970,"res":14},{"fit":12800,"res":-130},
{"fit":11200,"res":300},{"fit":11300,"res":-100},{"fit":11600,"res":-400},{"fit":11800,"res":200},{"fit":12000,"res":-300},{"fit":11400,"res":-600},{"fit":11700,"res":500},{"fit":12300,"res":100},{"fit":10700,"res":-200},{"fit":10500,"res":200},{"fit":10300,"res":600},{"fit":10200,"res":-700},{"fit":11100,"res":-500},{"fit":12100,"res":400},
{"fit":1500,"res":1700},{"fit":2100,"res":1900},{"fit":2700,"res":1800},{"fit":3100,"res":1700},{"fit":3600,"res":1600},{"fit":4100,"res":1500},{"fit":4600,"res":1400},{"fit":5500,"res":1400},{"fit":6100,"res":1500},{"fit":6600,"res":1300},{"fit":7000,"res":1800},{"fit":7500,"res":1600},{"fit":8400,"res":1500},{"fit":9100,"res":1400},{"fit":9700,"res":1300},{"fit":2900,"res":1400},{"fit":3500,"res":1900},{"fit":4800,"res":1600},{"fit":7900,"res":1700},{"fit":8700,"res":1200},
{"fit":600,"res":-1700},{"fit":1100,"res":-1900},{"fit":1400,"res":-1600},{"fit":2400,"res":-1500},{"fit":2600,"res":-1700},{"fit":3400,"res":-1500},{"fit":3900,"res":-1600},{"fit":4600,"res":-1400},{"fit":5200,"res":-1500},{"fit":6000,"res":-1300},{"fit":6900,"res":-1400},{"fit":7400,"res":-1300},{"fit":7900,"res":-1500},{"fit":8600,"res":-1200},{"fit":9300,"res":-1100},{"fit":2000,"res":-1500},{"fit":3200,"res":-2000},{"fit":2800,"res":-1900},
{"fit":13700,"res":-1000},{"fit":13800,"res":100},{"fit":14300,"res":-200},{"fit":14500,"res":400},{"fit":15100,"res":-300},{"fit":15400,"res":-200},{"fit":15700,"res":100},{"fit":15900,"res":-500},{"fit":16100,"res":300},{"fit":16400,"res":-100},{"fit":16600,"res":-500},{"fit":17000,"res":-700},{"fit":17200,"res":100},{"fit":17500,"res":-200},{"fit":18000,"res":300},{"fit":18400,"res":-100},{"fit":18800,"res":-200},{"fit":19200,"res":0}
]
},
"vconcat":[
{"vconcat":[
{"width":412,"height":370,
"title":{"text":"Polynomial","offset":33,"dx":-28},
"layer":[
{"data":{"name":"poly"},
"mark":{"type":"point","shape":"circle","filled":false,"color":"#000000","opacity":1,"strokeWidth":1.15,"size":17},
"encoding":{
"x":{"field":"fit","type":"quantitative","scale":{"domain":[-1711,41544],"nice":false,"zero":false},
"axis":{"values":[0,10000,20000,30000,40000],"title":"Fitted Value","labelExpr":"'' + datum.value","tickSize":7,"labelPadding":10,"labelFontSize":12,"titleFontSize":12,"titleY":51.6,"titleBaseline":"middle"}},
"y":{"field":"res","type":"quantitative","scale":{"domain":[-16083,38769],"nice":false,"zero":false},
"axis":{"values":[-10000,0,10000,20000,30000],"title":"Residual","labelExpr":"'' + datum.value","labelAngle":-90,"labelAlign":"center","labelBaseline":"bottom","tickSize":7,"labelPadding":9,"labelFontSize":12,"titleFontSize":12,"titleX":-50,"titleBaseline":"middle"}}
}},
{"data":{"values":[{}]},
"mark":{"type":"rule","color":"#1f237a","strokeWidth":1.2},
"encoding":{"y":{"datum":0,"type":"quantitative"}}}
]},
{"width":411,"height":433,
"title":{"text":"KNN","offset":33,"dx":9},
"layer":[
{"data":{"name":"knn"},
"mark":{"type":"point","shape":"circle","filled":false,"color":"#000000","opacity":1,"strokeWidth":1.15,"size":18},
"encoding":{
"x":{"field":"fit","type":"quantitative","scale":{"domain":[-1550,41520],"nice":false,"zero":false},
"axis":{"values":[0,10000,20000,30000,40000],"title":"Fitted Value","labelExpr":"'' + datum.value","tickSize":7,"labelPadding":13,"labelFontSize":12,"titleFontSize":12,"titleY":60,"titleBaseline":"middle"}},
"y":{"field":"res","type":"quantitative","scale":{"domain":[-16400,21450],"nice":false,"zero":false},
"axis":{"values":[-15000,-10000,-5000,0,5000,10000,15000,20000],"title":"Residual","labelExpr":"'' + datum.value","labelAngle":-90,"labelAlign":"center","labelBaseline":"bottom","tickSize":7,"labelPadding":6,"labelFontSize":14,"titleFontSize":14,"titleX":-50,"titleBaseline":"middle"}}
}},
{"data":{"values":[{}]},
"mark":{"type":"rule","color":"#555580","strokeWidth":2},
"encoding":{"y":{"datum":0,"type":"quantitative"}}}
]}
],"spacing":34},
{"width":347,"height":251,
"title":{"text":"GBM","offset":33,"dx":3},
"layer":[
{"data":{"name":"gbm"},
"mark":{"type":"point","shape":"circle","filled":false,"color":"#000000","opacity":1,"strokeWidth":1.5,"size":28},
"encoding":{
"x":{"field":"fit","type":"quantitative","scale":{"domain":[-2850,41520],"nice":false,"zero":false},
"axis":{"values":[0,10000,20000,30000,40000],"title":"Fitted Value","labelExpr":"'' + datum.value","tickSize":8,"labelPadding":16,"labelFontSize":13.5,"titleFontSize":13.5,"titleY":69.7,"titleX":178,"titleBaseline":"middle"}},
"y":{"field":"res","type":"quantitative","scale":{"domain":[-5411,5455],"nice":false,"zero":false},
"axis":{"orient":"left","offset":-9,"values":[-4000,-2000,0,2000,4000],"title":"Residual","labelExpr":"datum.value == 4000 || datum.value == -2000 ? '' : '' + datum.value","labelAngle":-90,"labelAlign":"center","labelBaseline":"bottom","tickSize":8,"labelPadding":7,"labelFontSize":14.5,"titleFontSize":14.5,"titleX":-57,"titleBaseline":"middle"}}
}},
{"data":{"values":[{}]},
"mark":{"type":"rule","color":"#141450","strokeWidth":1.4},
"encoding":{"y":{"datum":0,"type":"quantitative",
"axis":{"orient":"left","offset":-382,"domain":true,"domainColor":"#ffff00","domainWidth":1,"ticks":false,"tickSize":0,"values":[-4000,0,2000],"labelExpr":"'' + datum.value","labelAngle":-90,"labelAlign":"center","labelBaseline":"bottom","labelPadding":-52,"labelFontSize":14.5,"title":"Residual","titleFontSize":14.5,"titleX":10,"titleBaseline":"middle"}}}}
],
"resolve":{"axis":{"y":"independent"}}}
],
"spacing":47
}
